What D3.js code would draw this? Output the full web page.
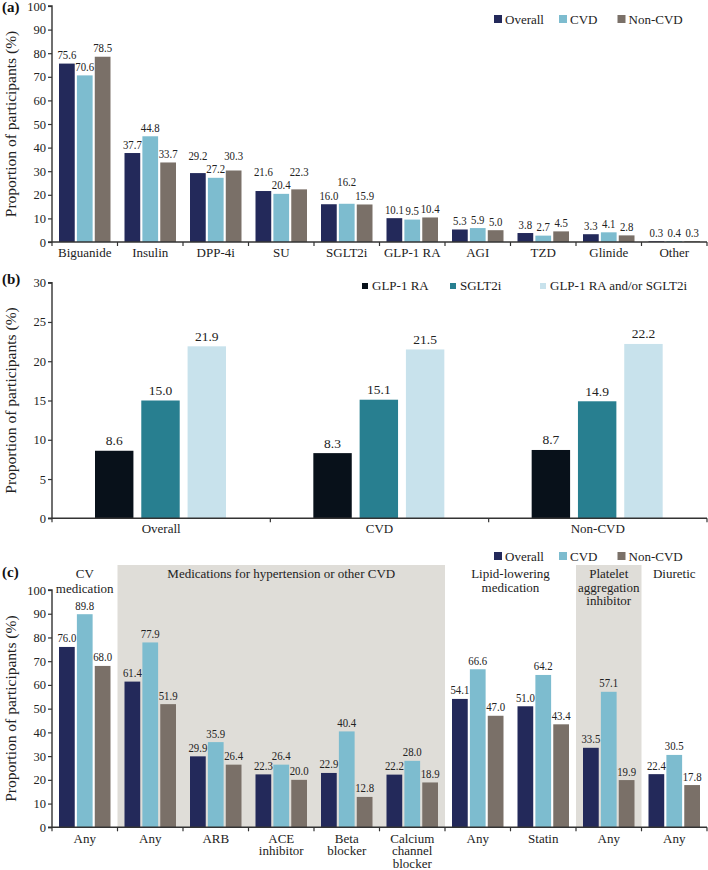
<!DOCTYPE html>
<html><head><meta charset="utf-8">
<script src="https://cdn.jsdelivr.net/npm/d3@7"></script>
<style>
html,body{margin:0;padding:0;background:#fff;}
</style></head>
<body>
<svg id="chart" width="708" height="870"></svg>
<script>
// ---------- DATA ----------
// Panel (a): glucose-lowering drug classes
const catsA = ["Biguanide","Insulin","DPP-4i","SU","SGLT2i","GLP-1 RA","AGI","TZD","Glinide","Other"];
const seriesA = ["Overall","CVD","Non-CVD"];
const overallA = [75.6,37.7,29.2,21.6,16.0,10.1,5.3,3.8,3.3,0.3];
const cvdA     = [70.6,44.8,27.2,20.4,16.2,9.5,5.9,2.7,4.1,0.4];
const noncvdA  = [78.5,33.7,30.3,22.3,15.9,10.4,5.0,4.5,2.8,0.3];

// Panel (b)
const catsB = ["Overall","CVD","Non-CVD"];
const seriesB = ["GLP-1 RA","SGLT2i","GLP-1 RA and/or SGLT2i"];
const glp1B  = [8.6,8.3,8.7];
const sglt2B = [15.0,15.1,14.9];
const eitherB= [21.9,21.5,22.2];

// Panel (c): CV medications
const catIdsC = ["cvAny","htnAny","arb","ace","beta","ccb","lipidAny","statin","pltAny","diuAny"];
const catLabelsC = [["Any"],["Any"],["ARB"],["ACE","inhibitor"],["Beta","blocker"],["Calcium","channel","blocker"],["Any"],["Statin"],["Any"],["Any"]];
const overallC = [76.0,61.4,29.9,22.3,22.9,22.2,54.1,51.0,33.5,22.4];
const cvdC     = [89.8,77.9,35.9,26.4,40.4,28.0,66.6,64.2,57.1,30.5];
const noncvdC  = [68.0,51.9,26.4,20.0,12.8,18.9,47.0,43.4,19.9,17.8];
const groupLabelsC = [["CV","medication"],["Medications for hypertension or other CVD"],["Lipid-lowering","medication"],["Platelet","aggregation","inhibitor"],["Diuretic"]];
const groupFirstC = ["cvAny","htnAny","lipidAny","pltAny","diuAny"];
const groupLastC  = ["cvAny","ccb","statin","pltAny","diuAny"];
const groupShadedC = [false,true,false,true,false];

const ticksA = d3.range(0,101,10);
const ticksB = d3.range(0,31,5);
const ticksC = d3.range(0,101,10);

// ---------- STYLE ----------
const FONT = "Liberation Serif";
const colA = ["#23295a","#7dbccf","#7a7068"];
const colB = ["#08111a","#287f90","#c8e2ec"];
const shade = "#dfddd8";
const ink = "#222";
const axisCol = "#333";

const svg = d3.select("#chart").style("font-family", FONT);
const X0 = 52, X1 = 707;

function txt(sel, size){
  return sel.append("text").style("font-family",FONT).style("font-size",size+"px").attr("fill",ink);
}

function panel(opts){
  const g = svg.append("g");
  const y = d3.scaleLinear().domain([0,opts.ymax]).range([opts.bottom, opts.top]);
  const x = d3.scaleBand().domain(opts.cats).range([X0,X1]).padding(0);
  const xs = d3.scaleBand().domain(opts.series).range(opts.inner).paddingInner(opts.gap);

  if (opts.before) opts.before(g, x, y);

  // bars
  const rows = [];
  opts.cats.forEach((c,i)=>opts.series.forEach((s,j)=>rows.push({c, i, s, j, v: opts.values[j][i]})));
  g.selectAll("rect.bar").data(rows).join("rect")
    .attr("x", d=>x(d.c)+xs(d.s)).attr("width", xs.bandwidth())
    .attr("y", d=>y(d.v)).attr("height", d=>y(0)-y(d.v))
    .attr("fill", d=>opts.colors[d.j]);

  // value labels (measure, then de-overlap within each group)
  const labels = g.selectAll("text.val").data(rows).join("text")
    .attr("class","val")
    .attr("text-anchor","middle").attr("fill",ink)
    .style("font-family",FONT)
    .style("font-size", opts.valSize+"px")
    .text(d=>d.v.toFixed(1));
  labels.each(function(d){
    d.cx = x(d.c)+xs(d.s)+xs.bandwidth()/2;
    d.w = this.getComputedTextLength()*opts.valScale;
    d.base = y(d.v)-opts.valOff;
  });
  const capH = 9.5, lift = 13.5;
  const collide = (a,b)=> Math.abs(a.cx-b.cx) < (a.w+b.w)/2+1 && Math.abs(a.base-b.base) < capH;
  d3.groups(rows, d=>d.i).forEach(([i, grp])=>{
    if (grp.length !== 3) return;
    const [l,m,r] = grp;
    if (collide(l,m) || collide(m,r)) {
      if (m.v < l.v && m.v < r.v) {
        const t = m.base - lift;
        l.base = Math.min(l.base, t); r.base = Math.min(r.base, t);
      } else {
        m.base = Math.min(l.base, r.base, m.base) - lift;
      }
    }
  });
  labels.attr("transform", d=>`translate(${d.cx},${d.base}) scale(${opts.valScale},1)`);

  // y axis
  const ya = g.append("g").attr("transform",`translate(${X0},0)`)
    .call(d3.axisLeft(y).tickValues(opts.ticks).tickSize(4).tickPadding(2).tickFormat(d3.format("d")));
  ya.attr("font-family",null);
  ya.select(".domain").attr("stroke",axisCol).attr("stroke-width",1.4).attr("d",`M-4,${opts.top}H0V${opts.bottom}`);
  ya.selectAll(".tick line").attr("stroke",axisCol).attr("stroke-width",1.2);
  ya.selectAll(".tick text").attr("fill",ink).style("font-size","12.5px").style("font-family",FONT);

  // x axis
  g.append("line").attr("x1",X0-4).attr("x2",X1).attr("y1",y(0)).attr("y2",y(0))
    .attr("stroke",axisCol).attr("stroke-width",1.4);
  const bounds = opts.cats.map(c=>x(c)).concat([x(opts.cats[opts.cats.length-1])+x.bandwidth()]);
  g.selectAll("line.xt").data(bounds).join("line")
    .attr("x1",d=>d).attr("x2",d=>d).attr("y1",y(0)).attr("y2",y(0)+4)
    .attr("stroke",axisCol).attr("stroke-width",1.2);

  // category labels
  opts.cats.forEach((c,i)=>{
    const lines = opts.catLabels[i];
    const t = txt(g,13).attr("text-anchor","middle");
    lines.forEach((ln,k)=>t.append("tspan").attr("x",x(c)+x.bandwidth()/2).attr("y",y(0)+opts.catOff+k*12.4).text(ln));
  });

  // y label
  txt(g,15.5).attr("transform",`translate(${16},${(opts.top+opts.bottom)/2}) rotate(-90)`)
    .attr("text-anchor","middle")
    .text("Proportion of participants (%)");

  // panel letter
  txt(g,15).attr("x",2).attr("y",opts.letterY).attr("fill","#111")
    .style("font-weight","bold").text(opts.letter);

  // legend
  opts.legend.x.forEach((lx,i)=>{
    g.append("rect").attr("x",lx).attr("y",opts.legend.y-opts.legend.sq-1).attr("width",opts.legend.sq).attr("height",opts.legend.sq).attr("fill",opts.colors[i]);
    txt(g,13).attr("x",lx+opts.legend.sq+opts.legend.tg).attr("y",opts.legend.y).text(opts.series[i]);
  });
  return {x,y,g};
}

// Panel (a)
panel({
  top:6, bottom:242, ymax:100, ticks:ticksA,
  cats:catsA, catLabels:catsA.map(c=>[c]), series:seriesA,
  values:[overallA,cvdA,noncvdA], colors:colA,
  inner:[7,58.5], gap:0.12, valOff:4.5, valSize:13.5, valScale:0.8,
  catOff:14.5, letter:"(a)", letterY:12,
  legend:{x:[494,559,617.5], y:24, sq:8, tg:3}
});

// Panel (b)
panel({
  top:282.7, bottom:518.3, ymax:30, ticks:ticksB,
  cats:catsB, catLabels:catsB.map(c=>[c]), series:seriesB,
  values:[glp1B,sglt2B,eitherB], colors:colB,
  inner:[43,174], gap:0.17, valOff:5.5, valSize:13.5, valScale:1,
  catOff:15, letter:"(b)", letterY:284,
  legend:{x:[362,450,540], y:290, sq:6, tg:4}
});

// Panel (c)
panel({
  top:590, bottom:827.3, ymax:100, ticks:ticksC,
  cats:catIdsC, catLabels:catLabelsC, series:seriesA,
  values:[overallC,cvdC,noncvdC], colors:colA,
  inner:[7,58.5], gap:0.12, valOff:4.5, valSize:13.5, valScale:0.8,
  catOff:15.5, letter:"(c)", letterY:577,
  legend:{x:[494,559,617.5], y:561, sq:8, tg:3},
  before:(g,x,y)=>{
    groupLabelsC.forEach((lab,i)=>{
      const xa = x(groupFirstC[i]), xb = x(groupLastC[i])+x.bandwidth();
      if (groupShadedC[i]) g.append("rect").attr("x",xa).attr("width",xb-xa).attr("y",565).attr("height",y(0)-565).attr("fill",shade);
      const lh = i===0 ? 15 : 13.5;
      const t = txt(g,13).attr("text-anchor","middle");
      lab.forEach((ln,k)=>t.append("tspan").attr("x",(xa+xb)/2).attr("y",578+k*lh).text(ln));
    });
  }
});
</script>
</body></html>
